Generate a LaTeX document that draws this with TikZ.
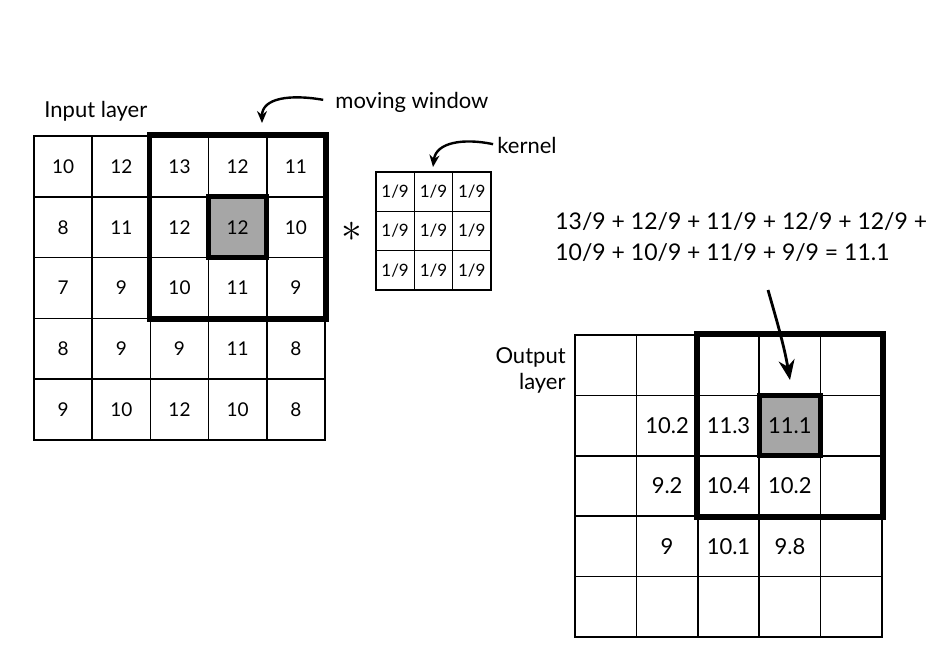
\documentclass[tikz,border=0pt]{standalone}
\usepackage{fontspec}
\setmainfont{Lato}
\usetikzlibrary{arrows.meta}

\tikzset{
  cell/.style={draw, line width=0.75pt, minimum width=29.1pt, minimum height=30.4pt, inner sep=0pt, font=\fontsize{9.5}{10}\selectfont},
  kcell/.style={draw, line width=0.75pt, minimum width=19.2pt, minimum height=19.7pt, inner sep=0pt, font=\fontsize{8.5}{9}\selectfont},
  ocell/.style={draw, line width=0.75pt, minimum width=30.7pt, minimum height=30.2pt, inner sep=0pt, font=\fontsize{11}{12}\selectfont},
  hilite/.style={fill=black!35, line width=2.6pt},
  win/.style={line width=2.8pt},
  lbl/.style={font=\fontsize{11}{13}\selectfont, inner sep=0pt},
  pointer/.style={-{Stealth[length=6pt,width=5pt]}, line width=1.2pt}
}

\begin{document}
\begin{tikzpicture}[x=0.5pt, y=-0.5pt]
\useasboundingbox (0,0) rectangle (941,661);

% input layer
\foreach \row [count=\r] in {{10,12,13,12,11},{8,11,12,12,10},{7,9,10,11,9},{8,9,9,11,8},{9,10,12,10,8}}
  \foreach \v [count=\c] in \row {
    \ifnum\r\c=24 \def\sty{hilite}\else\def\sty{}\fi
    \node[cell,\sty] (in-\r-\c) at ({34+58.2*(\c-0.5)},{136+60.8*(\r-0.5)}) {\v};
  }
\draw[win] (in-1-3.north west) rectangle (in-3-5.south east);
\node[lbl, anchor=base west] (inlbl) at (44,117) {Input layer};

% moving window label
\node[lbl, anchor=base west] (mw) at (335,108) {moving window};
\coordinate (mwtip) at (262,123);
\draw[pointer, shorten <=6pt] (mw.west) .. controls (290,94) and (262,98) .. (mwtip);

% kernel
\foreach \r in {1,2,3}
  \foreach \c in {1,2,3}
    \node[kcell] (k-\r-\c) at ({376+38.3*(\c-0.5)},{172+39.3*(\r-0.5)}) {1/9};
\node[lbl, anchor=base west] (kern) at (497,153) {kernel};
\coordinate (ktip) at (433,167);
\draw[pointer, shorten <=2pt] (kern.west) .. controls (464,138) and (436,142) .. (ktip);

\node (star) at (352,232) {\fontsize{20}{20}\selectfont$\ast$};

% the sum
\node[anchor=north west, align=left, inner sep=0pt, font=\fontsize{11.5}{15.5}\selectfont] (sum) at (555,212)
  {13/9 + 12/9 + 11/9 + 12/9 + 12/9 +\\10/9 + 10/9 + 11/9 + 9/9 = 11.1};

% output layer
\foreach \row [count=\r] in {{{},{},{},{},{}},{{},10.2,11.3,11.1,{}},{{},9.2,10.4,10.2,{}},{{},9,10.1,9.8,{}},{{},{},{},{},{}}}
  \foreach \v [count=\c] in \row {
    \ifnum\r\c=24 \def\sty{hilite}\else\def\sty{}\fi
    \node[ocell,\sty] (out-\r-\c) at ({575+61.4*(\c-0.5)},{335+60.4*(\r-0.5)}) {\v};
  }
\draw[win] (out-1-3.north west) rectangle (out-3-5.south east);
\node[lbl, align=right, anchor=north east] (outlbl) at (566,347) {Output\\layer};

\coordinate (sumfoot) at (768,290);
\coordinate (outtip) at (790,380);
\draw[-{Stealth[length=10pt,width=8pt]}, line width=1.4pt] (sumfoot) .. controls (776,318) and (784,345) .. (outtip);

\end{tikzpicture}
\end{document}
